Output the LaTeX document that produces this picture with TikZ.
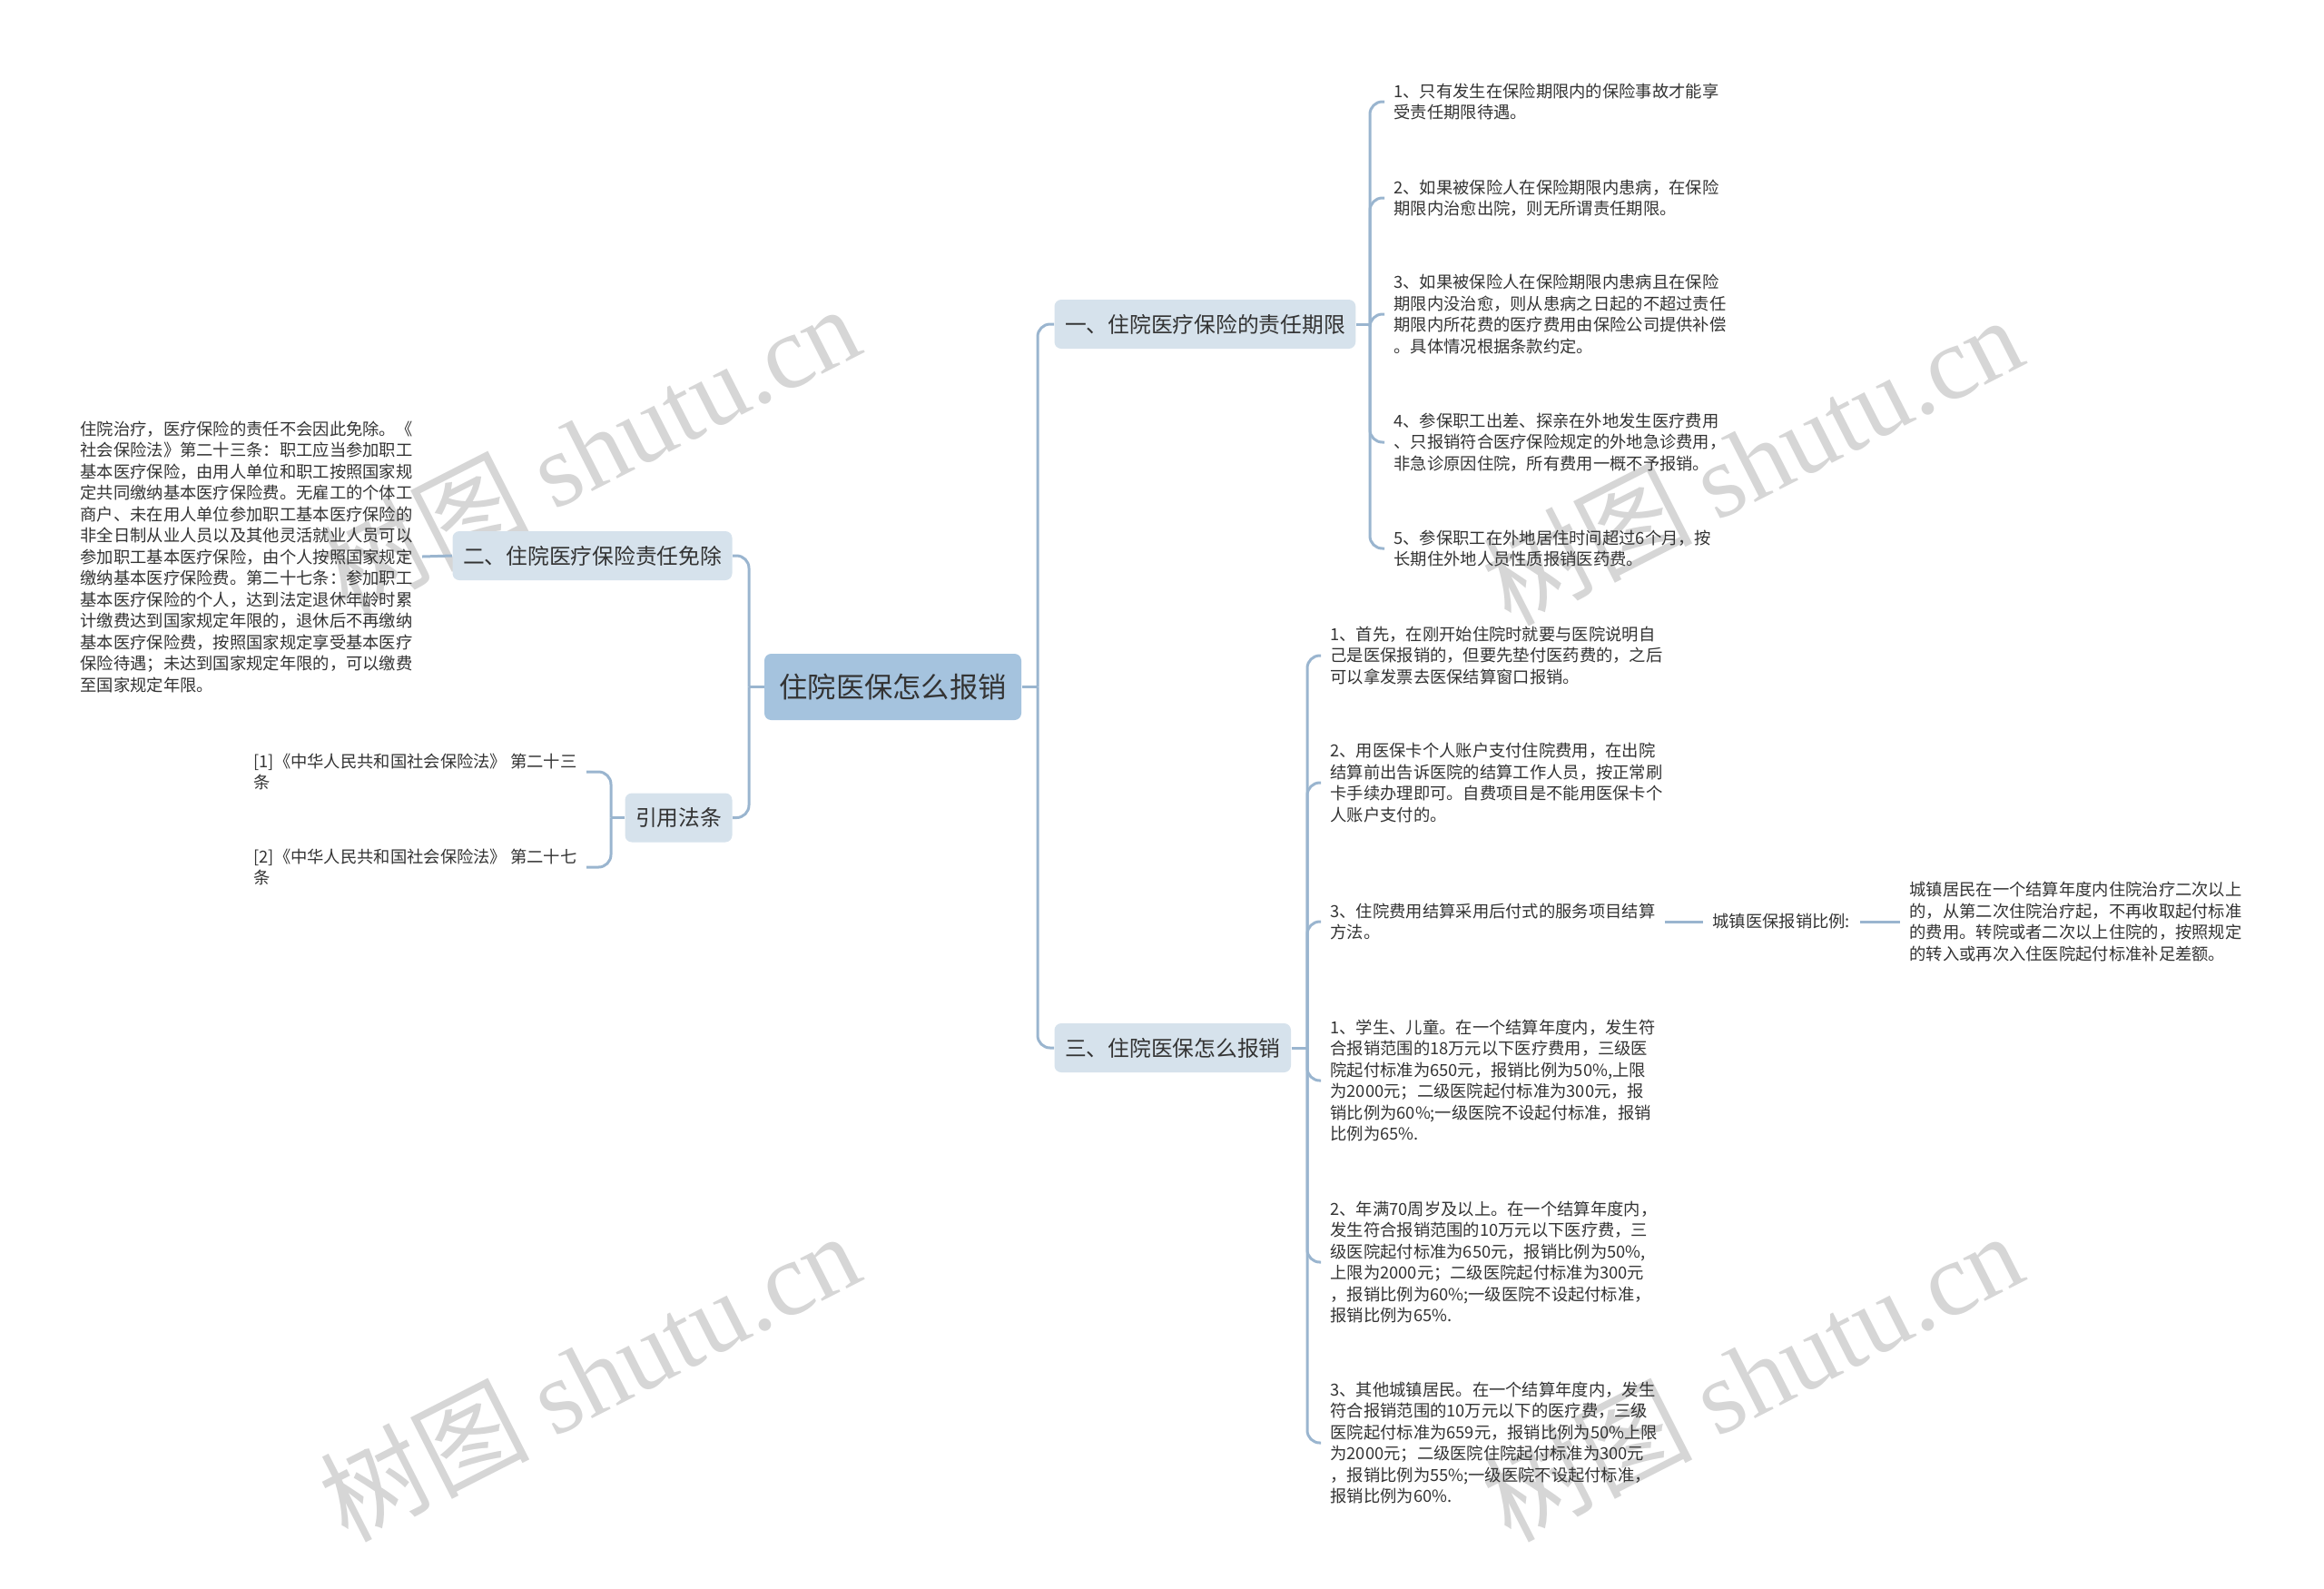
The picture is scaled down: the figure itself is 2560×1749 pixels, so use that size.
\documentclass[tikz,border=0pt]{standalone}
\usepackage{fontspec}
\setmainfont{Noto Sans CJK SC}
\newfontfamily\wmfont{Liberation Serif}
\definecolor{rootfill}{HTML}{A5C3DE}
\definecolor{branchfill}{HTML}{D6E2EC}
\definecolor{linkcol}{HTML}{9AB5CF}
\definecolor{txt}{HTML}{333333}
\newcommand\leaffont{\fontsize{7.32pt}{9.4pt}\selectfont}
\tikzset{
  rootbox/.style={fill=rootfill,rounded corners=3pt,minimum height=29.2pt,inner xsep=6.6pt,text=txt,font=\fontsize{12.5pt}{14pt}\selectfont},
  branchbox/.style={fill=branchfill,rounded corners=3pt,minimum height=21.6pt,inner xsep=4.6pt,text=txt,font=\fontsize{9.5pt}{11pt}\selectfont},
  leaf/.style={anchor=west,align=left,inner xsep=4pt,inner ysep=1pt,text=txt,font=\leaffont},
  link/.style={draw=linkcol,line width=1.2pt,rounded corners=5.5pt},
  wmtext/.style={rotate=27,text=black!16,font=\fontsize{46pt}{46pt}\selectfont}
}

\begin{document}
\begin{tikzpicture}[x=0.4pt,y=-0.4pt]
  \useasboundingbox (0,0) rectangle (2560,1749);

  \node[wmtext] (WM1) at (649,494) {树图 {\wmfont shutu.cn}};
  \node[wmtext] (WM2) at (1930,506) {树图 {\wmfont shutu.cn}};
  \node[wmtext] (WM3) at (649,1515) {树图 {\wmfont shutu.cn}};
  \node[wmtext] (WM4) at (1930,1515) {树图 {\wmfont shutu.cn}};

  \node[rootbox] (R) at (983.5,756.5) {住院医保怎么报销};
  \node[branchbox,anchor=west] (B1) at (1161,357) {一、住院医疗保险的责任期限};
  \node[branchbox,anchor=west] (B3) at (1161,1154) {三、住院医保怎么报销};
  \node[branchbox,anchor=east] (B2) at (807,612) {二、住院医疗保险责任免除};
  \node[branchbox,anchor=east] (B4) at (807,900.5) {引用法条};

  \node[leaf] (L11) at (1525,112) {1、只有发生在保险期限内的保险事故才能享\\受责任期限待遇。};
  \node[leaf] (L12) at (1525,218) {2、如果被保险人在保险期限内患病，在保险\\期限内治愈出院，则无所谓责任期限。};
  \node[leaf] (L13) at (1525,346) {3、如果被保险人在保险期限内患病且在保险\\期限内没治愈，则从患病之日起的不超过责任\\期限内所花费的医疗费用由保险公司提供补偿\\。具体情况根据条款约定。};
  \node[leaf] (L14) at (1525,487) {4、参保职工出差、探亲在外地发生医疗费用\\、只报销符合医疗保险规定的外地急诊费用，\\非急诊原因住院，所有费用一概不予报销。};
  \node[leaf] (L15) at (1525,604) {5、参保职工在外地居住时间超过6个月，按\\长期住外地人员性质报销医药费。};

  \node[leaf] (L21) at (78,613) {住院治疗，医疗保险的责任不会因此免除。《\\社会保险法》第二十三条：职工应当参加职工\\基本医疗保险，由用人单位和职工按照国家规\\定共同缴纳基本医疗保险费。无雇工的个体工\\商户、未在用人单位参加职工基本医疗保险的\\非全日制从业人员以及其他灵活就业人员可以\\参加职工基本医疗保险，由个人按照国家规定\\缴纳基本医疗保险费。第二十七条：参加职工\\基本医疗保险的个人，达到法定退休年龄时累\\计缴费达到国家规定年限的，退休后不再缴纳\\基本医疗保险费，按照国家规定享受基本医疗\\保险待遇；未达到国家规定年限的，可以缴费\\至国家规定年限。};

  \node[leaf] (C1) at (269,850) {[1]《中华人民共和国社会保险法》 第二十三\\条};
  \node[leaf] (C2) at (269,955) {[2]《中华人民共和国社会保险法》 第二十七\\条};

  \node[leaf] (L31) at (1455,722) {1、首先，在刚开始住院时就要与医院说明自\\己是医保报销的，但要先垫付医药费的，之后\\可以拿发票去医保结算窗口报销。};
  \node[leaf] (L32) at (1455,862) {2、用医保卡个人账户支付住院费用，在出院\\结算前出告诉医院的结算工作人员，按正常刷\\卡手续办理即可。自费项目是不能用医保卡个\\人账户支付的。};
  \node[leaf] (L33) at (1455,1015) {3、住院费用结算采用后付式的服务项目结算\\方法。};
  \node[leaf] (L34) at (1455,1190) {1、学生、儿童。在一个结算年度内，发生符\\合报销范围的18万元以下医疗费用，三级医\\院起付标准为650元，报销比例为50\%,上限\\为2000元；二级医院起付标准为300元，报\\销比例为60\%;一级医院不设起付标准，报销\\比例为65\%.};
  \node[leaf] (L35) at (1455,1390) {2、年满70周岁及以上。在一个结算年度内，\\发生符合报销范围的10万元以下医疗费，三\\级医院起付标准为650元，报销比例为50\%,\\上限为2000元；二级医院起付标准为300元\\，报销比例为60\%;一级医院不设起付标准，\\报销比例为65\%.};
  \node[leaf] (L36) at (1455,1589) {3、其他城镇居民。在一个结算年度内，发生\\符合报销范围的10万元以下的医疗费，三级\\医院起付标准为659元，报销比例为50\%上限\\为2000元；二级医院住院起付标准为300元\\，报销比例为55\%;一级医院不设起付标准，\\报销比例为60\%.};

  \node[leaf] (M1) at (1876,1015) {城镇医保报销比例:};
  \node[leaf] (M2) at (2093,1015) {城镇居民在一个结算年度内住院治疗二次以上\\的，从第二次住院治疗起，不再收取起付标准\\的费用。转院或者二次以上住院的，按照规定\\的转入或再次入住医院起付标准补足差额。};

  \coordinate (S0) at (1143,756.5);
  \coordinate (S0l) at (825,756.5);
  \coordinate (S1) at (1509,357);
  \coordinate (S3) at (1440,1154);
  \coordinate (S4) at (673,900.5);

  \draw[link] (R.east) -- (S0);
  \draw[link] (R.west) -- (S0l);
  \draw[link] (B1.east) -- (S1);
  \draw[link] (B3.east) -- (S3);
  \draw[link] (B4.west) -- (S4);
  \foreach \n in {B1,B3} \draw[link] (S0) |- (\n.west);
  \foreach \n in {B2,B4} \draw[link] (S0l) |- (\n.east);
  \foreach \n in {L11,L12,L13,L14,L15} \draw[link] (S1) |- (\n.west);
  \foreach \n in {L31,L32,L33,L34,L35,L36} \draw[link] (S3) |- (\n.west);
  \foreach \n in {C1,C2} \draw[link] (S4) |- (\n.east);
  \draw[link] (B2.west) -- (L21.east);
  \draw[link] (L33.east) -- (M1.west);
  \draw[link] (M1.east) -- (M2.west);
\end{tikzpicture}
\end{document}
